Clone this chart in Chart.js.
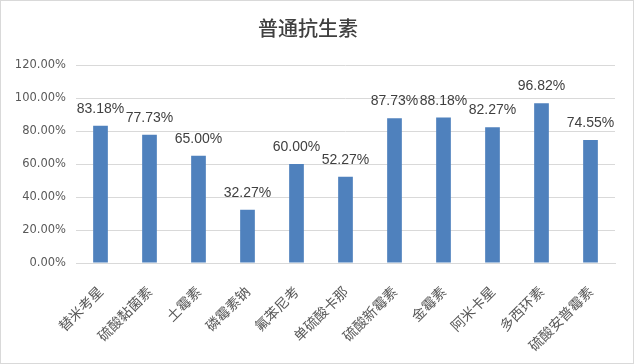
<!DOCTYPE html>
<html>
<head>
<meta charset="utf-8">
<script src="https://cdn.jsdelivr.net/npm/chart.js@4.4.0/dist/chart.umd.min.js"></script>
<style>
    html, body { margin: 0; padding: 0; background: #fff; }
    #wrap { width: 634px; height: 364px; box-sizing: border-box; border: 1px solid #d9d9d9; }
    canvas { display: block; }
</style>
</head>
<body>
<div id="wrap"><canvas id="chart" width="632" height="362"></canvas></div>
<script>
// ===============================
// DATA
// ===============================
const chartTitle = "普通抗生素";
const categories = ["替米考星", "硫酸黏菌素", "土霉素", "磷霉素钠", "氟苯尼考", "单硫酸卡那", "硫酸新霉素", "金霉素", "阿米卡星", "多西环素", "硫酸安普霉素"];
const rates = [83.18, 77.73, 65.00, 32.27, 60.00, 52.27, 87.73, 88.18, 82.27, 96.82, 74.55];
const yMax = 120;
const yStep = 20;

// ===============================
// VALUE LABELS ABOVE BARS
// ===============================
const valueLabels = {
    id: "valueLabels",
    afterDatasetsDraw(chart) {
        const ctx = chart.ctx;
        const meta = chart.getDatasetMeta(0);
        ctx.save();
        ctx.font = "14px 'Liberation Sans', Arial, sans-serif";
        ctx.fillStyle = "#404040";
        ctx.textAlign = "center";
        ctx.textBaseline = "alphabetic";
        meta.data.forEach((bar, i) => {
            ctx.fillText(rates[i].toFixed(2) + "%", bar.x, bar.y - 13);
        });
        ctx.restore();
    }
};

// ===============================
// CHART
// ===============================
new Chart(document.getElementById("chart"), {
    type: "bar",
    data: {
        labels: categories,
        datasets: [{
            data: rates,
            backgroundColor: "#4f81bd",
            barPercentage: 0.6,
            categoryPercentage: 0.5
        }]
    },
    options: {
        responsive: false,
        animation: false,
        layout: { padding: { left: 0, right: 18, top: 0, bottom: 0 } },
        plugins: {
            legend: { display: false },
            tooltip: { enabled: false },
            title: {
                display: true,
                text: chartTitle,
                color: "#404040",
                font: { family: "'Noto Sans CJK SC', sans-serif", size: 20, weight: "500" },
                padding: { top: 15, bottom: 25 }
            }
        },
        scales: {
            x: {
                grid: { display: false },
                border: { display: true, color: "#d9d9d9" },
                ticks: {
                    color: "#595959",
                    font: { family: "'Noto Sans CJK SC', sans-serif", size: 14 },
                    minRotation: 45,
                    maxRotation: 45,
                    padding: 12
                },
                afterFit(scale) { scale.height = 100; }
            },
            y: {
                min: 0,
                max: yMax,
                grid: { color: "#d9d9d9", drawTicks: false },
                border: { display: false },
                ticks: {
                    stepSize: yStep,
                    color: "#595959",
                    padding: 10,
                    font: { family: "'DejaVu Sans', sans-serif", size: 11.5 },
                    callback: v => v.toFixed(2) + "%"
                },
                afterFit(scale) { scale.width = 75; }
            }
        }
    },
    plugins: [valueLabels]
});
</script>
</body>
</html>
